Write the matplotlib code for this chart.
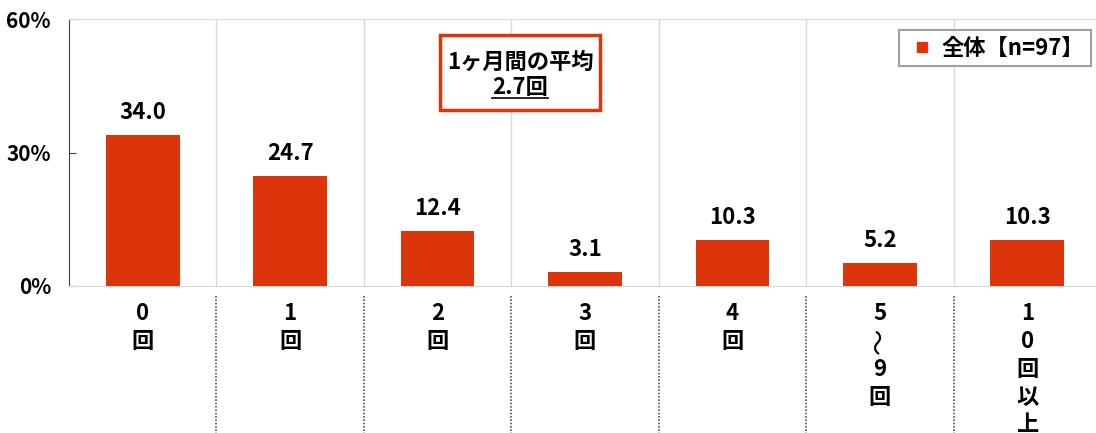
import matplotlib
matplotlib.use('Agg')
import matplotlib.pyplot as plt
import matplotlib.transforms as mtransforms
from matplotlib.lines import Line2D
from matplotlib.patches import Rectangle

plt.rcParams['font.family'] = ['Noto Sans CJK JP', 'DejaVu Sans']
plt.rcParams['font.weight'] = 'bold'

# data
categories = ['0回', '1回', '2回', '3回', '4回', '5〜9回', '10回以上']
values = [34.0, 24.7, 12.4, 3.1, 10.3, 5.2, 10.3]
series_name = '全体【n=97】'
yticks = [0, 30, 60]
avg_title = '1ヶ月間の平均'
avg_value = '2.7回'

bar_color = '#DC350C'
W, H = 1096, 433

fig = plt.figure(figsize=(W / 100, H / 100), dpi=100)
ax = fig.add_axes([69 / W, 1 - 286 / H, (1101 - 69) / W, (286 - 19) / H])

x = list(range(len(categories)))
ax.bar(x, values, width=0.5, color=bar_color, zorder=3)
ax.set_xlim(-0.5, len(categories) - 0.5)
ax.set_ylim(0, 60)
ax.set_yticks(yticks)
ax.set_yticklabels([f'{t}%' for t in yticks], fontsize=15, fontweight='bold')
ax.tick_params(axis='y', direction='in', length=5, pad=13, color='#404040')
ax.set_xticks([])
for s in ['top', 'right', 'bottom']:
    ax.spines[s].set_color('#d9d9d9')
ax.spines['left'].set_color('#404040')

# light category separators inside the plot
for b in range(len(categories) - 1):
    ax.axvline(b + 0.5, color='#d9d9d9', lw=1, zorder=1)

# dotted separators below the axis
below = mtransforms.blended_transform_factory(ax.transData, fig.transFigure)
for b in range(len(categories) - 1):
    ax.plot([b + 0.5, b + 0.5], [1 - 296 / H, 0], transform=below,
            color='#555555', lw=1.2, ls=(0, (1, 1)), clip_on=False)

# value labels
for xi, v in zip(x, values):
    ax.annotate(f'{v:.1f}', xy=(xi, v), xytext=(0, 8), textcoords='offset points',
                ha='center', va='bottom', fontsize=16, fontweight='bold')

# vertical category labels, one character per line
for i, cat in enumerate(categories):
    for k, ch in enumerate(cat):
        wave = ch == '〜'
        ax.annotate(ch, xy=(i, 0), xycoords=ax.get_xaxis_transform(),
                    xytext=(0, -(27 + 28 * k)), textcoords='offset pixels',
                    ha='center', va='center', fontsize=19 if wave else 16,
                    fontweight='normal' if wave else 'bold',
                    rotation=90 if wave else 0, annotation_clip=False)

# legend
handle = Line2D([], [], marker='s', ls='', color=bar_color, markersize=7)
leg = ax.legend([handle], [series_name], loc='upper right',
                bbox_to_anchor=(1091 / W, 1 - 30 / H), bbox_transform=fig.transFigure,
                fancybox=False, edgecolor='#a0a0a0', framealpha=1,
                prop={'size': 16, 'weight': 'bold'}, handletextpad=0.2,
                borderpad=0.3, handlelength=1.4, borderaxespad=0)
leg.get_frame().set_linewidth(1.5)

# average annotation box
rect = Rectangle((440 / W, 1 - 110 / H), 160 / W, 75 / H, transform=fig.transFigure,
                 facecolor='white', edgecolor=bar_color, lw=2.5, zorder=5)
fig.add_artist(rect)
fig.text(520 / W, 1 - 62 / H, avg_title, ha='center', va='center',
         fontsize=16, fontweight='bold', zorder=6)
val_txt = fig.text(520 / W, 1 - 87 / H, avg_value, ha='center', va='center',
                   fontsize=16, fontweight='bold', zorder=6)

fig.canvas.draw()
bb = val_txt.get_window_extent()
uy = bb.y0 + 1
fig.add_artist(Line2D([bb.x0 / W, bb.x1 / W], [uy / H, uy / H],
                      transform=fig.transFigure, color='black', lw=1.2, zorder=6))

fig.savefig('out.png', dpi=100)
